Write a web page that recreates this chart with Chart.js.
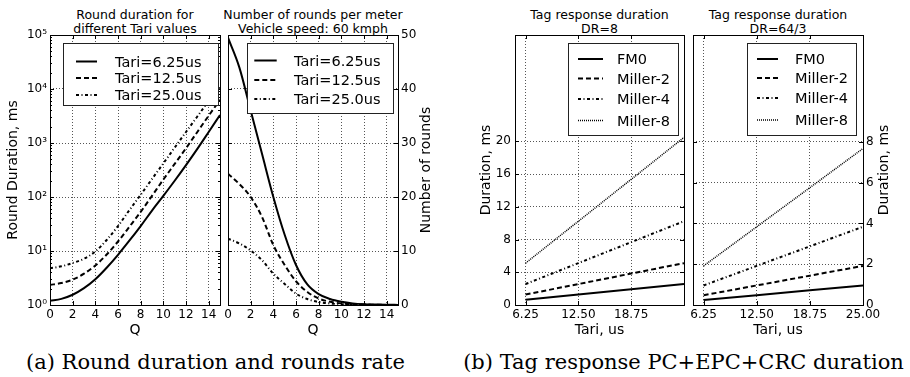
<!DOCTYPE html>
<html>
<head>
<meta charset="utf-8">
<script src="https://cdn.jsdelivr.net/npm/chart.js@4.4.1/dist/chart.umd.min.js"></script>
<style>
	body { margin: 0; background: #fff; width: 910px; height: 377px; position: relative; overflow: hidden; font-family: "DejaVu Sans"; color: #000; }
	canvas { position: absolute; top: 0; }
	.ttl { position: absolute; top: 8.4px; font-size: 12.5px; line-height: 13.6px; text-align: center; white-space: nowrap; transform: translateX(-50%); }
	.cap { position: absolute; top: 350px; font-family: "DejaVu Serif"; font-size: 21px; line-height: 24px; white-space: nowrap; transform: translateX(-50%); }
</style>
</head>
<body>
<div class="ttl" style="left:135px">Round duration for<br>different Tari values</div>
<div class="ttl" style="left:313px">Number of rounds per meter<br>Vehicle speed: 60 kmph</div>
<div class="ttl" style="left:599.5px">Tag response duration<br>DR=8</div>
<div class="ttl" style="left:778px">Tag response duration<br>DR=64/3</div>
<canvas id="durChart" width="230" height="345" style="left:0px"></canvas>
<canvas id="roundsChart" width="230" height="345" style="left:220px"></canvas>
<canvas id="dr8Chart" width="232" height="345" style="left:455px"></canvas>
<canvas id="dr643Chart" width="225" height="345" style="left:685px"></canvas>
<div class="cap" style="left:215.5px">(a) Round duration and rounds rate</div>
<div class="cap" style="left:683.5px">(b) Tag response PC+EPC+CRC duration</div>
<script>
// Q values and tick lists
const qValues = [0, 1, 2, 3, 4, 5, 6, 7, 8, 9, 10, 11, 12, 13, 14, 15];
const qTicks = [0, 2, 4, 6, 8, 10, 12, 14];
const durTicks = [1, 10, 100, 1000, 10000, 100000];
const roundsTicks = [0, 10, 20, 30, 40, 50];

// round duration, ms
const durTari625 = [1.2, 1.3, 1.55, 2.05, 3.0, 4.9, 8.5, 15.5, 29, 56, 105, 200, 390, 780, 1600, 3300];
const durTari125 = [2.35, 2.55, 2.95, 3.8, 5.4, 8.6, 15, 28, 53, 105, 210, 410, 800, 1600, 3200, 6300];
const durTari25 = [4.8, 5.2, 6.0, 7.2, 9.8, 16, 29, 57, 110, 215, 420, 820, 1600, 3100, 6000, 11000];

// rounds per meter
const roundsTari625 = [49.5, 44, 36, 28, 20, 13, 7.4, 3.8, 2.0, 1.1, 0.6, 0.3, 0.15, 0.08, 0.04, 0.02];
const roundsTari125 = [24.3, 22.4, 20.0, 16.3, 11.1, 7.4, 4.4, 2.4, 1.2, 0.6, 0.3, 0.15, 0.08, 0.04, 0.02, 0.01];
const roundsTari25 = [12.3, 11.4, 10.1, 8.3, 5.8, 3.9, 2.1, 1.1, 0.55, 0.28, 0.14, 0.07, 0.04, 0.02, 0.01, 0.005];

// tag response duration, ms
const tariValues = [6.25, 12.5, 18.75, 25];
const dr8Ticks = [0, 4, 8, 12, 16, 20];
const dr643Ticks = [0, 2, 4, 6, 8];
const dr8Fm0 = [0.64, 1.28, 1.92, 2.56];
const dr8Miller2 = [1.28, 2.56, 3.84, 5.12];
const dr8Miller4 = [2.56, 5.12, 7.68, 10.24];
const dr8Miller8 = [5.12, 10.24, 15.36, 20.48];
const dr643Fm0 = [0.24, 0.48, 0.72, 0.96];
const dr643Miller2 = [0.48, 0.96, 1.44, 1.92];
const dr643Miller4 = [0.96, 1.92, 2.88, 3.84];
const dr643Miller8 = [1.92, 3.84, 5.76, 7.68];

Chart.defaults.font.family = "'DejaVu Sans'";
Chart.defaults.font.size = 12;
Chart.defaults.color = "#000";

const sup = ["\u2070", "\u00b9", "\u00b2", "\u00b3", "\u2074", "\u2075"];
const gridColor = "#555";

const styles = {
	solid: { borderDash: [], borderWidth: 2 },
	dashed: { borderDash: [5, 3], borderWidth: 2 },
	dashdot: { borderDash: [3, 2.5, 1, 2.5], borderWidth: 2 },
	dotted: { borderDash: [1, 1], borderWidth: 1.5 },
};

function series(label, xs, ys, style, smooth) {
	return Object.assign({
		label: label,
		data: xs.map((x, i) => ({ x: x, y: ys[i] })),
		borderColor: "#000",
		pointRadius: 0,
		fill: false,
		cubicInterpolationMode: smooth ? "monotone" : "default",
	}, styles[style]);
}

// frame with inward ticks on all four sides
const frameTicks = {
	id: "frameTicks",
	afterDatasetsDraw(chart) {
		const { ctx, chartArea: a, scales } = chart;
		const xs = scales.x, ys = scales.y;
		ctx.save();
		ctx.strokeStyle = "#000";
		ctx.lineWidth = 1;
		ctx.setLineDash([]);
		ctx.beginPath();
		xs.ticks.forEach(t => {
			const px = Math.round(xs.getPixelForValue(t.value)) + 0.5;
			ctx.moveTo(px, a.bottom); ctx.lineTo(px, a.bottom - 4);
			ctx.moveTo(px, a.top); ctx.lineTo(px, a.top + 4);
		});
		const hTick = (v, len) => {
			const py = Math.round(ys.getPixelForValue(v)) + 0.5;
			ctx.moveTo(a.left, py); ctx.lineTo(a.left + len, py);
			ctx.moveTo(a.right, py); ctx.lineTo(a.right - len, py);
		};
		ys.ticks.forEach(t => hTick(t.value, 4));
		if (ys.type === "logarithmic") {
			for (let d = 1; d < 100000; d *= 10) {
				for (let m = 2; m < 10; m++) hTick(m * d, 2);
			}
		}
		ctx.stroke();
		ctx.strokeRect(Math.round(a.left) + 0.5, Math.round(a.top) + 0.5, Math.round(a.width), Math.round(a.height));
		ctx.restore();
	},
};

// boxed legend inside the plot
const boxLegend = {
	id: "boxLegend",
	afterDraw(chart, args, o) {
		if (!o.box) return;
		const ctx = chart.ctx;
		const [x0, y0, x1, y1] = o.box;
		ctx.save();
		ctx.fillStyle = "#fff";
		ctx.fillRect(x0, y0, x1 - x0, y1 - y0);
		ctx.strokeStyle = "#222";
		ctx.lineWidth = 1;
		ctx.strokeRect(x0 + 0.5, y0 + 0.5, x1 - x0, y1 - y0);
		ctx.font = "14.5px 'DejaVu Sans'";
		ctx.fillStyle = "#000";
		ctx.textBaseline = "alphabetic";
		chart.data.datasets.forEach((ds, i) => {
			const y = o.rows[i];
			ctx.strokeStyle = "#000";
			ctx.lineWidth = ds.borderWidth;
			ctx.setLineDash(ds.borderDash);
			ctx.beginPath();
			ctx.moveTo(o.sample[0], y);
			ctx.lineTo(o.sample[1], y);
			ctx.stroke();
			ctx.setLineDash([]);
			ctx.fillText(ds.label, o.textX, y + 5.3);
		});
		ctx.restore();
	},
};

// right side axis title, reading bottom to top
const sideTitle = {
	id: "sideTitle",
	afterDraw(chart, args, o) {
		if (!o.text) return;
		const ctx = chart.ctx;
		ctx.save();
		ctx.translate(o.x, o.y);
		ctx.rotate(-Math.PI / 2);
		ctx.font = "14px 'DejaVu Sans'";
		ctx.fillStyle = "#000";
		ctx.textAlign = "center";
		ctx.textBaseline = "middle";
		ctx.fillText(o.text, 0, 0);
		ctx.restore();
	},
};

function axis(extra) {
	return Object.assign({
		type: "linear",
		grid: { color: gridColor, drawTicks: false },
		border: { display: false, dash: [1, 2] },
	}, extra);
}

function xAxis(min, max, tickList, title, fmt) {
	return axis({
		min: min,
		max: max,
		afterBuildTicks: s => { s.ticks = tickList.map(v => ({ value: v })); },
		afterFit: s => { s.height = 40; },
		ticks: { padding: 3, maxRotation: 0, autoSkip: false, callback: fmt || (v => v) },
		title: { display: true, text: title, font: { size: 14 }, padding: { top: 0, bottom: 6.6 } },
	});
}

const baseOptions = (scales, plugins) => ({
	responsive: false,
	animation: false,
	devicePixelRatio: 1,
	layout: { padding: plugins.pad },
	scales: scales,
	plugins: Object.assign({ legend: { display: false }, title: { display: false }, tooltip: { enabled: false } }, plugins.p),
});

new Chart(document.getElementById("durChart"), {
	type: "line",
	data: {
		datasets: [
			series("Tari=6.25us", qValues, durTari625, "solid", true),
			series("Tari=12.5us", qValues, durTari125, "dashed", true),
			series("Tari=25.0us", qValues, durTari25, "dashdot", true),
		],
	},
	options: baseOptions({
		x: xAxis(0, 15, qTicks, "Q"),
		y: axis({
			type: "logarithmic",
			min: 1,
			max: 100000,
			afterBuildTicks: s => { s.ticks = durTicks.map(v => ({ value: v })); },
			afterFit: s => { s.width = 50; },
			ticks: { padding: 3, callback: v => "10" + sup[Math.round(Math.log10(v))] },
			title: { display: true, text: "Round Duration, ms", font: { size: 14 }, padding: { top: 4.6 } },
		}),
	}, {
		pad: { top: 35, right: 10, bottom: 0, left: 0 },
		p: {
			boxLegend: { box: [63, 43, 218, 105], rows: [61.5, 78, 95], sample: [76, 97], textX: 115 },
		},
	}),
	plugins: [frameTicks, boxLegend, sideTitle],
});

new Chart(document.getElementById("roundsChart"), {
	type: "line",
	data: {
		datasets: [
			series("Tari=6.25us", qValues, roundsTari625, "solid", true),
			series("Tari=12.5us", qValues, roundsTari125, "dashed", true),
			series("Tari=25.0us", qValues, roundsTari25, "dashdot", true),
		],
	},
	options: baseOptions({
		x: xAxis(0, 15, qTicks, "Q"),
		y: axis({
			position: "right",
			min: 0,
			max: 50,
			afterBuildTicks: s => { s.ticks = roundsTicks.map(v => ({ value: v })); },
			afterFit: s => { s.width = 52; },
			ticks: { padding: 3 },
		}),
	}, {
		pad: { top: 35, right: 0, bottom: 0, left: 8 },
		p: {
			boxLegend: { box: [27, 43, 173, 113], rows: [60.5, 80, 99], sample: [34.3, 56.7], textX: 74 },
			sideTitle: { text: "Number of rounds", x: 206, y: 170 },
		},
	}),
	plugins: [frameTicks, boxLegend, sideTitle],
});

new Chart(document.getElementById("dr8Chart"), {
	type: "line",
	data: {
		datasets: [
			series("FM0", tariValues, dr8Fm0, "solid"),
			series("Miller-2", tariValues, dr8Miller2, "dashed"),
			series("Miller-4", tariValues, dr8Miller4, "dashdot"),
			series("Miller-8", tariValues, dr8Miller8, "dotted"),
		],
	},
	options: baseOptions({
		x: xAxis(5, 25, [6.25, 12.5, 18.75], "Tari, us", v => v.toFixed(2)),
		y: axis({
			min: 0,
			max: 33,
			afterBuildTicks: s => { s.ticks = dr8Ticks.map(v => ({ value: v })); },
			afterFit: s => { s.width = 60; },
			ticks: { padding: 4 },
			title: { display: true, text: "Duration, ms", font: { size: 14 }, padding: { top: 23.1 } },
		}),
	}, {
		pad: { top: 35, right: 3, bottom: 0, left: 0 },
		p: {
			boxLegend: { box: [113, 43, 223, 135], rows: [59, 78.5, 99, 120.5], sample: [123, 148], textX: 162 },
		},
	}),
	plugins: [frameTicks, boxLegend, sideTitle],
});

new Chart(document.getElementById("dr643Chart"), {
	type: "line",
	data: {
		datasets: [
			series("FM0", tariValues, dr643Fm0, "solid"),
			series("Miller-2", tariValues, dr643Miller2, "dashed"),
			series("Miller-4", tariValues, dr643Miller4, "dashdot"),
			series("Miller-8", tariValues, dr643Miller8, "dotted"),
		],
	},
	options: baseOptions({
		x: xAxis(5, 25, tariValues, "Tari, us", v => v.toFixed(2)),
		y: axis({
			position: "right",
			min: 0,
			max: 13.25,
			afterBuildTicks: s => { s.ticks = dr643Ticks.map(v => ({ value: v })); },
			afterFit: s => { s.width = 47; },
			ticks: { padding: 3 },
		}),
	}, {
		pad: { top: 35, right: 0, bottom: 0, left: 8 },
		p: {
			boxLegend: { box: [62, 43, 171, 135], rows: [59, 78, 98, 120], sample: [72, 93], textX: 110 },
			sideTitle: { text: "Duration, ms", x: 199, y: 170 },
		},
	}),
	plugins: [frameTicks, boxLegend, sideTitle],
});
</script>
</body>
</html>
